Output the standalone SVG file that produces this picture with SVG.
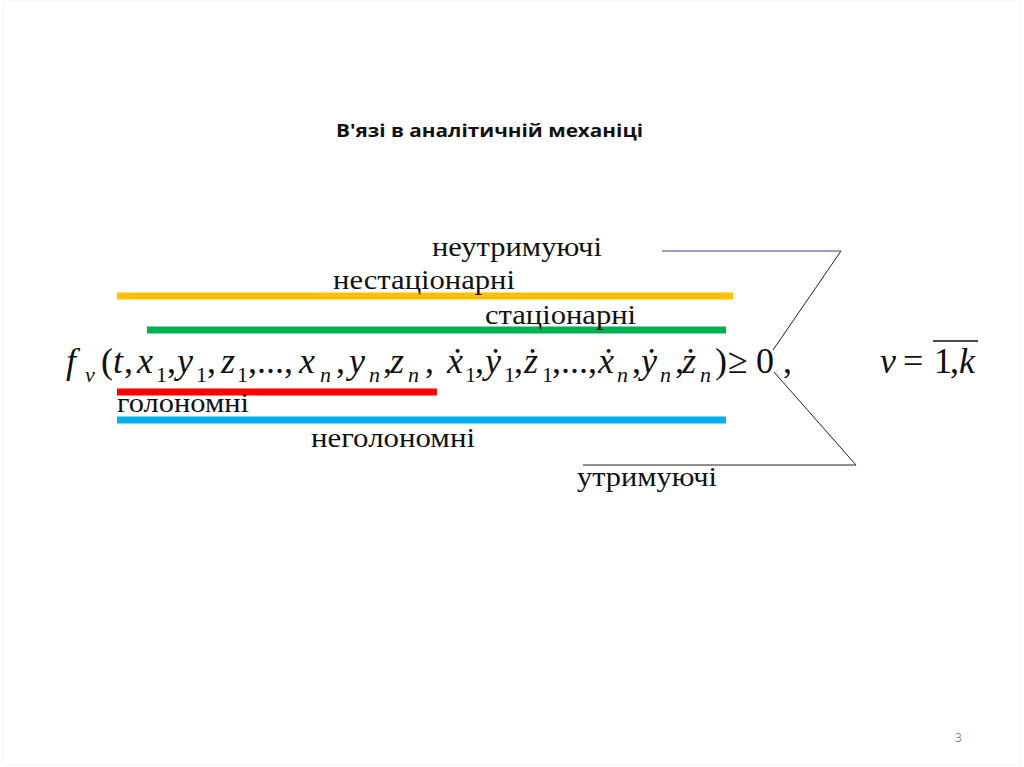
<svg xmlns="http://www.w3.org/2000/svg" width="1024" height="767" viewBox="0 0 1024 767">
<style>
.lbl{font-family:"Liberation Serif","Times New Roman",serif;font-size:27px;fill:#111}
.m{font-family:"Liberation Serif","Times New Roman",serif;font-size:36px;fill:#111;font-style:italic}
.r{font-style:normal}
.s{font-size:22px}
.bar{stroke-width:7;fill:none}
.thin{stroke:#222;stroke-width:1;fill:none}
</style>
<rect x="0" y="0" width="1024" height="767" fill="#fff"/>
<rect x="3" y="1" width="1017" height="764" fill="none" stroke="#f3f3f3" stroke-width="1"/>
<g id="title">
<text x="336" y="137" font-family="'Open Sans',Lato,sans-serif" font-weight="bold" font-size="18" fill="#111" textLength="307" lengthAdjust="spacingAndGlyphs">В'язі в аналітичній механіці</text>
</g>
<g id="connectors">
<line class="bar" x1="117" y1="296" x2="733" y2="296" stroke="#FFC000"/>
<line class="bar" x1="147" y1="330" x2="726" y2="330" stroke="#00B050"/>
<line class="bar" x1="117" y1="392" x2="437" y2="392" stroke="#FF0000"/>
<line class="bar" x1="117" y1="420" x2="726" y2="420" stroke="#00B0F0"/>
<line x1="662" y1="251" x2="841" y2="251" stroke="#5B2A8A" stroke-width="1.2"/>
<polyline class="thin" points="841,251 773,350"/>
<polyline class="thin" points="774,372 856,465 583,465"/>
</g>
<g id="label-neutrymuyuchi"><text class="lbl" x="432" y="256" textLength="170" lengthAdjust="spacingAndGlyphs">неутримуючі</text></g>
<g id="label-nestatsionarni"><text class="lbl" x="333" y="289" textLength="182" lengthAdjust="spacingAndGlyphs">нестаціонарні</text></g>
<g id="label-statsionarni"><text class="lbl" x="485" y="324" textLength="151" lengthAdjust="spacingAndGlyphs">стаціонарні</text></g>
<g id="label-holonomni"><text class="lbl" x="117" y="412" textLength="132" lengthAdjust="spacingAndGlyphs">голономні</text></g>
<g id="label-neholonomni"><text class="lbl" x="311" y="447" textLength="164" lengthAdjust="spacingAndGlyphs">неголономні</text></g>
<g id="label-utrymuyuchi"><text class="lbl" x="577" y="486" textLength="140" lengthAdjust="spacingAndGlyphs">утримуючі</text></g>
<g id="formula">
<text class="m" y="373">
<tspan x="66">f</tspan><tspan class="s" x="85" y="382">ν</tspan><tspan class="r" x="101" y="373">(</tspan><tspan x="113">t</tspan><tspan class="r" x="124">,</tspan>
<tspan x="137">x</tspan><tspan class="s r" x="156" y="382">1</tspan><tspan class="r" x="167" y="373">,</tspan>
<tspan x="177">y</tspan><tspan class="s r" x="196" y="382">1</tspan><tspan class="r" x="207" y="373">,</tspan>
<tspan x="221">z</tspan><tspan class="s r" x="237" y="382">1</tspan><tspan class="r" x="248" y="373">,...,</tspan>
<tspan x="299">x</tspan><tspan class="s" x="320" y="382">n</tspan><tspan class="r" x="336" y="373">,</tspan>
<tspan x="349">y</tspan><tspan class="s" x="369" y="382">n</tspan><tspan class="r" x="383" y="373">,</tspan>
<tspan x="390">z</tspan><tspan class="s" x="408" y="382">n</tspan><tspan class="r" x="425" y="373">,</tspan>
<tspan x="447">ẋ</tspan><tspan class="s r" x="465" y="382">1</tspan><tspan class="r" x="475" y="373">,</tspan>
<tspan x="485">ẏ</tspan><tspan class="s r" x="504" y="382">1</tspan><tspan class="r" x="514" y="373">,</tspan>
<tspan x="524">ż</tspan><tspan class="s r" x="542" y="382">1</tspan><tspan class="r" x="552" y="373">,...,</tspan>
<tspan x="598">ẋ</tspan><tspan class="s" x="617" y="382">n</tspan><tspan class="r" x="632" y="373">,</tspan>
<tspan x="641">ẏ</tspan><tspan class="s" x="660" y="382">n</tspan><tspan class="r" x="675" y="373">,</tspan>
<tspan x="682">ż</tspan><tspan class="s" x="700" y="382">n</tspan><tspan class="r" x="715" y="373">)</tspan>
<tspan class="r" x="728">≥</tspan><tspan class="r" x="756">0</tspan><tspan class="r" x="783">,</tspan>
</text>
<text class="m" y="373"><tspan x="880">ν</tspan><tspan class="r" x="903">=</tspan><tspan class="r" x="934">1</tspan><tspan class="r" x="950">,</tspan><tspan x="959">k</tspan></text>
<line x1="933" y1="341" x2="978" y2="341" stroke="#111" stroke-width="1.3"/>
</g>
<g id="page-number"><text x="955" y="742" font-family="'Open Sans',sans-serif" font-size="12" fill="#888">3</text></g>
</svg>
